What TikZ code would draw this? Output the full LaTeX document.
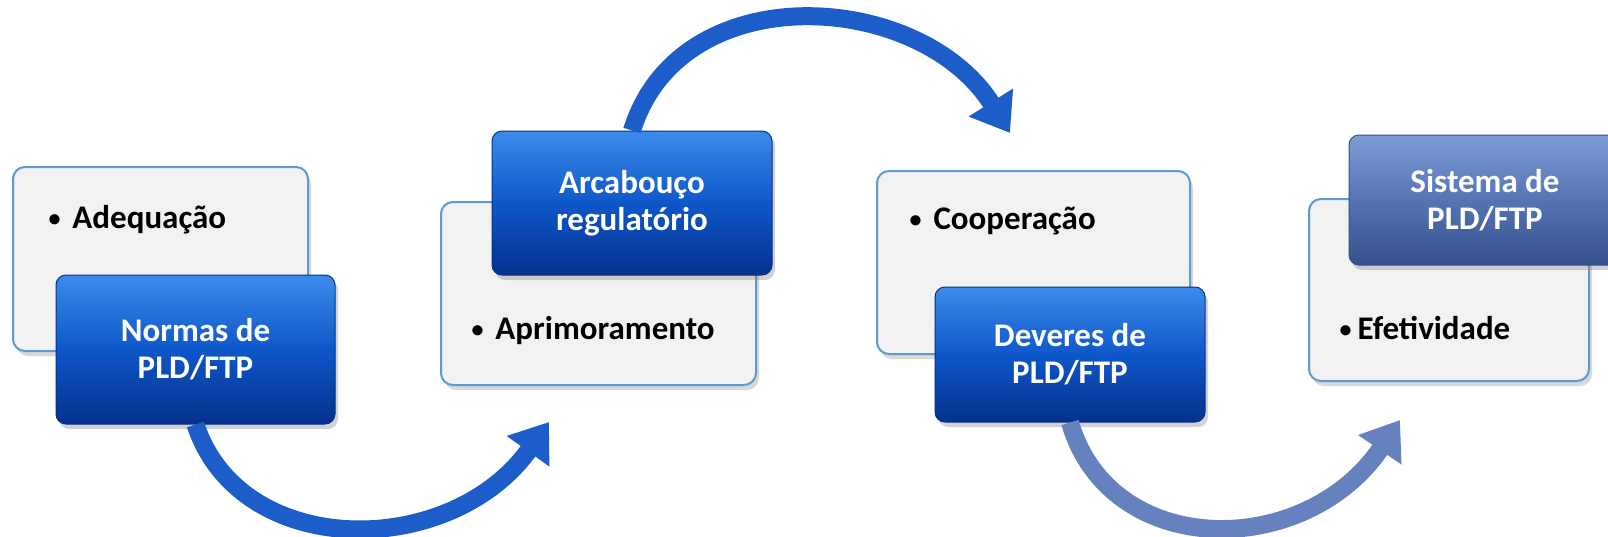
\documentclass[tikz,border=0pt]{standalone}
\usepackage{fontspec}
\setmainfont{Carlito}
\usetikzlibrary{arrows.meta,shadows}
\definecolor{lbfill}{HTML}{F2F2F2}
\definecolor{lbline}{HTML}{5B9BD5}
\definecolor{dbtop}{HTML}{3C8BEA}
\definecolor{dbmid}{HTML}{0E57C9}
\definecolor{dbbot}{HTML}{05308C}
\definecolor{gbtop}{HTML}{7C9CD6}
\definecolor{gbmid}{HTML}{5674B4}
\definecolor{gbbot}{HTML}{34518C}
\definecolor{arblue}{HTML}{1C5DC9}
\definecolor{argray}{HTML}{6582BF}
\newcommand{\bul}{\raisebox{2pt}{\fontsize{24}{24}\selectfont\textbullet}}
\tikzstyle{lb}=[draw=lbline, line width=2pt, fill=lbfill, rounded corners=12pt, drop shadow={shadow xshift=3pt,shadow yshift=-5pt,opacity=0.3}]
\tikzstyle{db}=[draw=dbbot, line width=1pt, top color=dbtop, bottom color=dbbot, middle color=dbmid, rounded corners=10pt, text=white, align=center, font=\bfseries\fontsize{33}{37}\selectfont, drop shadow={shadow xshift=3pt,shadow yshift=-5pt,opacity=0.35}]
\tikzstyle{gb}=[db, draw=gbbot, top color=gbtop, bottom color=gbbot, middle color=gbmid]
\tikzstyle{lt}=[anchor=west, font=\bfseries\fontsize{33}{37}\selectfont]
\tikzstyle{ar}=[line width=18pt, draw=arblue, -{Triangle[width=50pt,length=36pt]}]

\begin{document}
\begin{tikzpicture}[x=1pt, y=-1pt]

\path[use as bounding box, fill=white] (0,0) rectangle (1608,536);

\node[lb, minimum width=295pt, minimum height=184pt] (l1) at (160.5,259) {};
\node[lt] (t1) at (45,220) {\bul\hspace{12pt}Adequação};
\node[db, minimum width=279pt, minimum height=149pt] (d1) at (195.5,349.5) {Normas de\\PLD/FTP};

\node[lb, minimum width=315pt, minimum height=183pt] (l2) at (598.5,293.5) {};
\node[lt] (t2) at (468,331) {\bul\hspace{12pt}Aprimoramento};
\node[db, minimum width=280pt, minimum height=144pt] (d2) at (632,203) {Arcabouço\\regulatório};

\node[lb, minimum width=313pt, minimum height=183pt] (l3) at (1033.5,262.5) {};
\node[lt] (t3) at (906,221) {\bul\hspace{12pt}Cooperação};
\node[db, minimum width=270pt, minimum height=135pt] (d3) at (1070,354.5) {Deveres de\\PLD/FTP};

\node[lb, minimum width=280pt, minimum height=182pt] (l4) at (1449,290) {};
\node[lt] (t4) at (1336,328) {\bul\hspace{6pt}Efetividade};
\node[gb, minimum width=272pt, minimum height=130pt] (d4) at (1485,200) {Sistema de\\PLD/FTP};

\coordinate (e1) at (549,422);
\coordinate (e2) at (1010,133);
\coordinate (e3) at (1400,420);

\draw[ar] (d1.south) .. controls (240,560) and (450,560) .. (e1);
\draw[ar] (d2.north) .. controls (680,-25) and (920,-10) .. (e2);
\draw[ar, draw=argray] (d3.south) .. controls (1110,560) and (1305,560) .. (e3);

\end{tikzpicture}
\end{document}
